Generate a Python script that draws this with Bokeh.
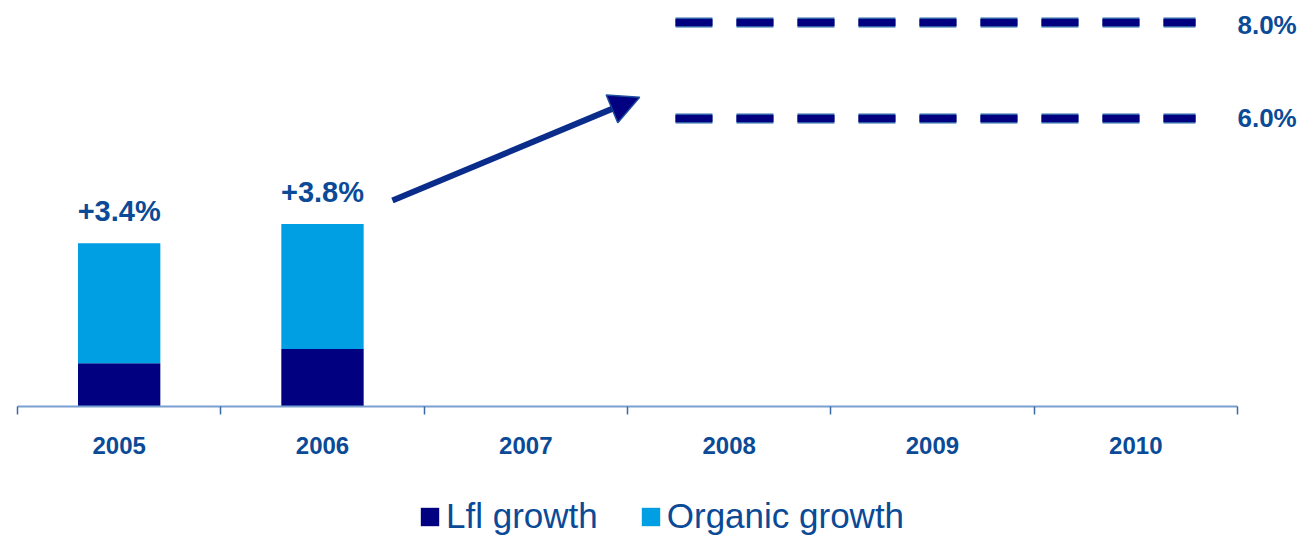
from bokeh.plotting import figure
from bokeh.layouts import column
from bokeh.models import (Range1d, FixedTicker, Legend, LegendItem, Arrow,
                          NormalHead, ColumnDataSource)
from bokeh.core.properties import value
from bokeh.embed import file_html
from bokeh.resources import INLINE

# ---- data ----
years = ["2005", "2006", "2007", "2008", "2009", "2010"]
bar_years = ["2005", "2006"]
lfl_growth = [0.9, 1.2]
organic_growth = [3.4, 3.8]          # total (organic) growth
bar_labels = ["+3.4%", "+3.8%"]
target_values = [8.0, 6.0]
target_labels = ["8.0%", "6.0%"]
target_years = ("2008", "2010")      # span of the target dashed lines
series_names = ["Lfl growth", "Organic growth"]

NAVY = "#000080"
LIGHT = "#009FE3"
TEXT = "#0B4A96"
FONT = "Liberation Sans"

pos = {y: i + 0.5 for i, y in enumerate(years)}
bx = [pos[y] for y in bar_years]

p = figure(frame_width=1284, frame_height=406, output_backend="svg",
           toolbar_location=None,
           x_range=Range1d(0, 6.315), y_range=Range1d(0, 8.458),
           y_axis_location=None, min_border_left=17, min_border_right=0,
           min_border_top=0, min_border_bottom=90)
p.outline_line_color = None
p.grid.grid_line_color = None
p.background_fill_color = "white"
p.border_fill_color = "white"

src = ColumnDataSource(dict(x=bx, lfl=lfl_growth, org=organic_growth, lab=bar_labels))
p.vbar(x="x", bottom=0, top="lfl", width=0.405, source=src,
       fill_color=NAVY, line_color=None)
p.vbar(x="x", bottom="lfl", top="org", width=0.405, source=src,
       fill_color=LIGHT, line_color=None)

p.text(x="x", y="org", text="lab", source=src, text_align="center",
       text_baseline="alphabetic", y_offset=-32, text_color=TEXT,
       text_font=value(FONT), text_font_style="bold", text_font_size="29px")

# target dashed lines
tx0 = pos[target_years[0]] - 0.5 + 0.236
tx1 = pos[target_years[1]] + 0.294
for v in target_values:
    p.line([tx0, tx1], [v, v], line_color="#2f64a8", line_width=10,
           line_dash="37 24", line_cap="butt")
    p.line([tx0, tx1], [v, v], line_color=NAVY, line_width=7,
           line_dash="37 24", line_cap="butt")

tsrc = ColumnDataSource(dict(x=[len(years)] * 2, y=target_values, t=target_labels,
                             off=[3, 0]))
p.text(x="x", y="y", text="t", source=tsrc, text_align="left",
       text_baseline="middle", y_offset="off", text_color=TEXT,
       text_font=value(FONT), text_font_style="bold", text_font_size="26px")

# trend arrow
p.add_layout(Arrow(x_start=1.844, y_start=4.29, x_end=3.06, y_end=6.44,
                   line_color="#0a2c8a", line_width=6,
                   end=NormalHead(size=30, fill_color=NAVY,
                                  line_color="#1f4f9f", line_width=1.5)))

# x axis: ticks at category boundaries, labels at centers
ax = p.xaxis[0]
ax.ticker = FixedTicker(ticks=[pos[y] for y in years],
                        minor_ticks=list(range(len(years) + 1)))
ax.major_label_overrides = {pos[y]: y for y in years}
ax.bounds = (0, len(years))
ax.major_tick_line_color = None
ax.major_tick_in = 0
ax.major_tick_out = 0
ax.minor_tick_in = 0
ax.minor_tick_out = 8
ax.minor_tick_line_color = "#3a6aa8"
ax.minor_tick_line_width = 1.5
ax.axis_line_color = "#7b9fd0"
ax.axis_line_width = 2
ax.major_label_standoff = 22
ax.major_label_text_font = FONT
ax.major_label_text_font_style = "bold"
ax.major_label_text_font_size = "24px"
ax.major_label_text_color = TEXT

# legend strip below the chart (same series, view range kept away from the bars)
lg = figure(width=1301, height=40, output_backend="svg", toolbar_location=None,
            x_axis_location=None, y_axis_location=None,
            x_range=Range1d(100, 101), y_range=Range1d(100, 101),
            min_border_left=0, min_border_right=0, min_border_top=0,
            min_border_bottom=0)
lg.outline_line_color = None
lg.grid.grid_line_color = None
d_lfl = lg.vbar(x="x", bottom=0, top="lfl", width=0.405, source=src,
                fill_color=NAVY, line_color=None)
d_org = lg.vbar(x="x", bottom="lfl", top="org", width=0.405, source=src,
                fill_color=LIGHT, line_color=None)
legend = Legend(items=[LegendItem(label=series_names[0], renderers=[d_lfl]),
                       LegendItem(label=series_names[1], renderers=[d_org])],
                orientation="horizontal", location=(401, 0),
                glyph_width=23, glyph_height=23, label_standoff=5, spacing=41,
                label_text_font=FONT, label_text_font_size="35px",
                label_text_color=TEXT, border_line_color=None,
                background_fill_alpha=0, padding=0, margin=0)
lg.add_layout(legend)

open("out.html", "w").write(file_html(column(p, lg, spacing=0), INLINE))
